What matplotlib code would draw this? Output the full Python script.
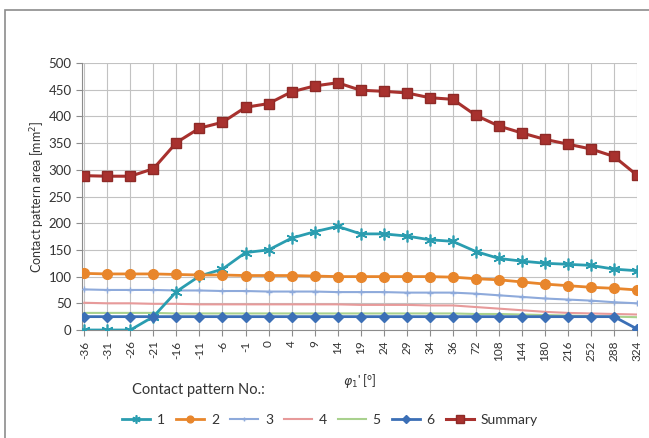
import matplotlib.pyplot as plt
from matplotlib.patches import Rectangle

plt.rcParams['font.family'] = ['Lato', 'DejaVu Sans']

angles = ['-36', '-31', '-26', '-21', '-16', '-11', '-6', '-1', '0', '4', '9', '14', '19',
          '24', '29', '34', '36', '72', '108', '144', '180', '216', '252', '288', '324']

p1 = [0, 0, 0, 25, 72, 101, 114, 145, 150, 172, 184, 194, 180,
      180, 176, 169, 166, 147, 134, 129, 125, 123, 121, 114, 111]
p2 = [106, 105, 105, 105, 104, 103, 103, 102, 102, 102, 101, 100, 100,
      100, 100, 100, 99, 96, 94, 90, 86, 83, 80, 78, 75]
p3 = [76, 75, 75, 75, 74, 74, 73, 73, 72, 72, 72, 71, 71,
      71, 70, 70, 70, 68, 65, 62, 59, 57, 55, 52, 50]
p4 = [51, 50, 50, 49, 49, 48, 48, 48, 48, 48, 48, 48, 47,
      47, 47, 46, 46, 43, 40, 37, 34, 32, 31, 30, 29]
p5 = [32, 32, 32, 32, 31, 31, 31, 31, 31, 31, 31, 31, 31,
      31, 31, 31, 31, 30, 30, 29, 28, 27, 26, 25, 24]
p6 = [25, 25, 25, 25, 25, 25, 25, 25, 25, 25, 25, 25, 25,
      25, 25, 25, 25, 25, 25, 25, 25, 25, 25, 25, 2]
summary = [289, 288, 288, 302, 351, 378, 389, 417, 424, 446, 457, 463, 449,
           447, 444, 435, 432, 402, 382, 369, 357, 348, 339, 325, 290]

fig = plt.figure(figsize=(6.49, 4.38), dpi=100)
# outer frame, only its top and left edges fall inside the image
fig.patches.append(Rectangle((5 / 649, -0.1), 1.2, 1 - 10 / 438 + 0.1, transform=fig.transFigure,
                             fill=False, edgecolor='#8c8c8c', linewidth=1.2))
ax = fig.add_axes([82 / 649, 1 - 330 / 438, 555 / 649, 267 / 438])

x = range(len(angles))
ax.plot(x, p1, color='#2a9db0', lw=2, marker=(6, 2, 0), ms=8.5, mew=1.2, label='1', zorder=4)
ax.plot(x, p2, color='#e8862c', lw=2, marker='o', ms=7, label='2', zorder=4)
ax.plot(x, p3, color='#8eaadb', lw=1.5, marker='+', ms=5, mew=1, label='3', zorder=3)
ax.plot(x, p4, color='#e79a9a', lw=1.5, label='4', zorder=3)
ax.plot(x, p5, color='#a9d18e', lw=1.5, label='5', zorder=3)
ax.plot(x, p6, color='#3b6fb6', lw=2, marker='D', ms=5.5, label='6', zorder=4)
ax.plot(x, summary, color='#a8312e', lw=2.2, marker='s', ms=7.5, mec='#8e2a27',
        label='Summary', zorder=5)

ax.set_xlim(-0.1, 24)
ax.set_ylim(0, 500)
ax.set_yticks(range(0, 501, 50))
ax.set_xticks(list(x))
ax.set_xticklabels(angles, rotation=90)
ax.grid(True, color='#c2c2c2', lw=0.8)
ax.set_axisbelow(True)
for side in ['top', 'right']:
    ax.spines[side].set_visible(False)
for side in ['left', 'bottom']:
    ax.spines[side].set_color('#8c8c8c')
ax.tick_params(axis='both', colors='#8c8c8c', labelcolor='#333333', length=4)
ax.tick_params(axis='y', labelsize=9.5)
ax.tick_params(axis='x', labelsize=8.5)

ax.set_ylabel('Contact pattern area [mm$^2$]', fontsize=9, color='#333333', labelpad=1)
ax.set_xlabel(r"$\varphi_1$' [°]", fontsize=9, color='#333333', labelpad=8)

fig.text(132 / 649, 1 - 390 / 438, 'Contact pattern No.:', fontsize=10.5, color='#333333',
         va='center')
fig.legend(loc='center', bbox_to_anchor=(330 / 649, 1 - 420 / 438), ncol=7, frameon=False,
           fontsize=10, handlelength=2, columnspacing=0.8, handletextpad=0.5,
           markerscale=0.7, labelcolor='#333333')

fig.savefig('out.png', dpi=100)
